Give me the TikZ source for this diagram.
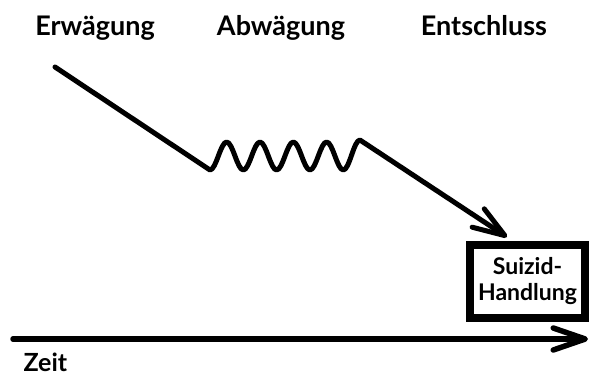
\documentclass[tikz,border=0pt]{standalone}
\usepackage{fontspec}
\setmainfont{Lato}
\usetikzlibrary{arrows.meta}
\begin{document}
\begin{tikzpicture}[x=1pt, y=-1pt,
  phase/.style={font=\bfseries\fontsize{27}{32}\selectfont, anchor=base},
  stroke/.style={line width=5pt, line cap=round, line join=round},
  barb/.style={-{Straight Barb[length=32pt, width=22pt, round]}},
  actbox/.style={draw, line width=8pt, minimum width=115pt, minimum height=73pt,
    align=center, inner sep=0pt, font=\bfseries\fontsize{23}{26}\selectfont}]
\useasboundingbox (0,0) rectangle (594,378);

% phase labels
\node[phase] (erw) at (95,35) {Erwägung};
\node[phase] (abw) at (281,35) {Abwägung};
\node[phase] (ent) at (484,35) {Entschluss};

% the act itself
\node[actbox] (act) at (527.5,281.5) {Suizid-\\Handlung};

% course of the decision: descent, oscillation, descent to the act
\coordinate (w0) at (55,67);
\coordinate (w1) at (210,170);
\coordinate (wtip) at (507,237);
\draw[stroke, barb] (w0) -- (w1)
  cos ++(8.33,-14) sin ++(8.33,-14)
  cos ++(8.33,14)  sin ++(8.33,14)
  cos ++(8.33,-14) sin ++(8.33,-14)
  cos ++(8.33,14)  sin ++(8.33,14)
  cos ++(8.33,-14) sin ++(8.33,-14)
  cos ++(8.33,14)  sin ++(8.33,14)
  cos ++(8.33,-14) sin ++(8.33,-14)
  cos ++(8.33,14)  sin ++(8.33,14)
  cos ++(8.33,-15) sin ++(8.33,-15)
  -- (wtip);

% time axis
\coordinate (t0) at (13,339);
\coordinate (t1) at (588,339);
\draw[stroke, line width=5.5pt, barb] (t0) -- (t1);
\node[phase, anchor=base west, font=\bfseries\fontsize{25}{30}\selectfont] (zeit) at (20,371) {Zeit};
\end{tikzpicture}
\end{document}
